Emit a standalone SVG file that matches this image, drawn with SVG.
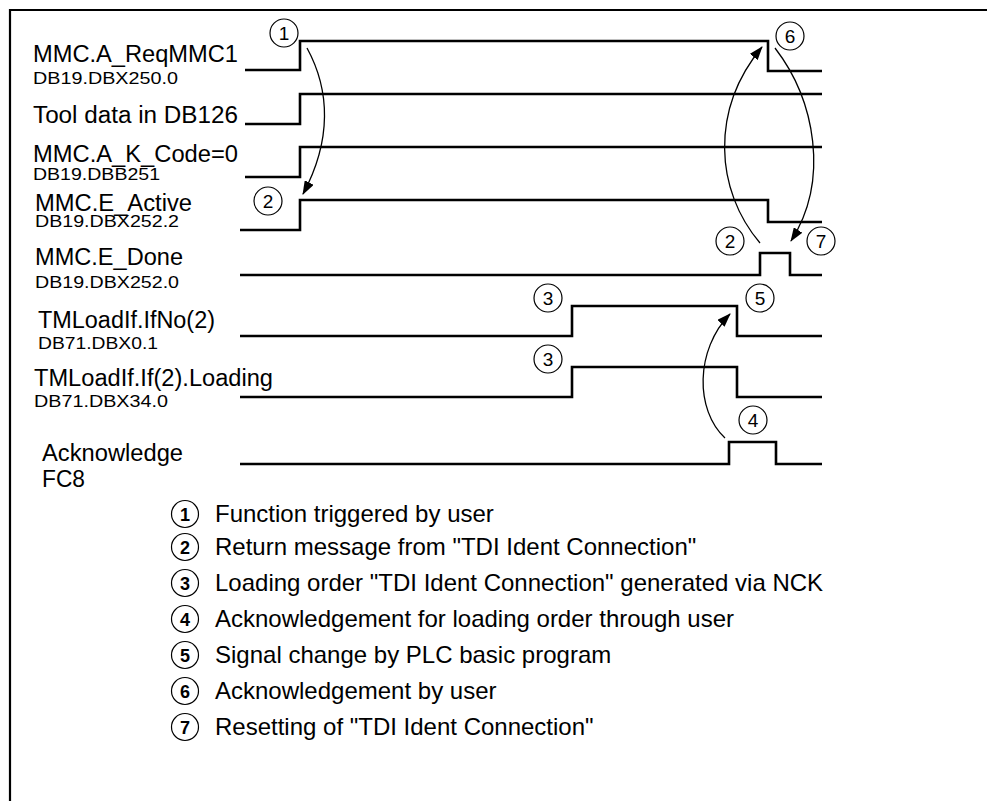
<svg xmlns="http://www.w3.org/2000/svg" width="987" height="801" viewBox="0 0 987 801">
<style>
.frame{fill:none;stroke:#000;stroke-width:2.2}
.sig{fill:none;stroke:#000;stroke-width:2.6;stroke-linejoin:miter}
.lbl{font-family:"Liberation Sans",Arial,sans-serif;font-size:23px;fill:#000}
.sub{font-family:"Liberation Sans",Arial,sans-serif;font-size:17px;fill:#000}
.cir{fill:#fff;stroke:#000;stroke-width:1.2}
.num{font-family:"Liberation Sans",Arial,sans-serif;font-size:19px;fill:#000;text-anchor:middle}
.bnum{font-family:"Liberation Sans",Arial,sans-serif;font-size:18px;font-weight:bold;fill:#000;text-anchor:middle}
.leg{font-family:"Liberation Sans",Arial,sans-serif;font-size:24px;fill:#000}
.arr{fill:none;stroke:#000;stroke-width:1.3}
</style>
<defs>
<marker id="ah" viewBox="0 0 14 10" refX="13" refY="5" markerWidth="14" markerHeight="10" markerUnits="userSpaceOnUse" orient="auto">
<path d="M0,0 L14,5 L0,10 Z" fill="#000"/>
</marker>
</defs>
<rect width="987" height="801" fill="#fff"/>
<path class="frame" d="M10,801 V10 H987"/>

<g id="sig-reqmmc1">
<text class="lbl" x="33" y="61.5" textLength="205" lengthAdjust="spacingAndGlyphs">MMC.A_ReqMMC1</text>
<text class="sub" x="33" y="84" textLength="145" lengthAdjust="spacingAndGlyphs">DB19.DBX250.0</text>
<path class="sig" d="M245,70 H300 V41 H768 V71 H822"/>
</g>
<g id="sig-tooldata">
<text class="lbl" x="33" y="122.5" textLength="205" lengthAdjust="spacingAndGlyphs">Tool data in DB126</text>
<path class="sig" d="M245,124 H300 V94 H822"/>
</g>
<g id="sig-kcode">
<text class="lbl" x="33" y="161.5" textLength="205" lengthAdjust="spacingAndGlyphs">MMC.A_K_Code=0</text>
<text class="sub" x="33" y="180" textLength="127" lengthAdjust="spacingAndGlyphs">DB19.DBB251</text>
<path class="sig" d="M245,177 H300 V147 H822"/>
</g>
<g id="sig-active">
<text class="lbl" x="35" y="210.5" textLength="157" lengthAdjust="spacingAndGlyphs">MMC.E_Active</text>
<text class="sub" x="35" y="227" textLength="144" lengthAdjust="spacingAndGlyphs">DB19.DBX252.2</text>
<path class="sig" d="M240,230 H300 V200 H768 V222 H822"/>
</g>
<g id="sig-done">
<text class="lbl" x="35" y="265" textLength="148" lengthAdjust="spacingAndGlyphs">MMC.E_Done</text>
<text class="sub" x="35" y="288" textLength="144" lengthAdjust="spacingAndGlyphs">DB19.DBX252.0</text>
<path class="sig" d="M240,275 H760 V253 H790 V275 H822"/>
</g>
<g id="sig-ifno">
<text class="lbl" x="38" y="328" textLength="177" lengthAdjust="spacingAndGlyphs">TMLoadIf.IfNo(2)</text>
<text class="sub" x="38" y="349" textLength="120" lengthAdjust="spacingAndGlyphs">DB71.DBX0.1</text>
<path class="sig" d="M240,336 H572 V306 H737 V336 H822"/>
</g>
<g id="sig-loading">
<text class="lbl" x="34" y="386" textLength="239" lengthAdjust="spacingAndGlyphs">TMLoadIf.If(2).Loading</text>
<text class="sub" x="34" y="406.5" textLength="134" lengthAdjust="spacingAndGlyphs">DB71.DBX34.0</text>
<path class="sig" d="M240,397 H572 V367 H737 V397 H822"/>
</g>
<g id="sig-ack">
<text class="lbl" x="42" y="460.5" textLength="141" lengthAdjust="spacingAndGlyphs">Acknowledge</text>
<text class="lbl" x="42" y="487" textLength="43" lengthAdjust="spacingAndGlyphs">FC8</text>
<path class="sig" d="M240,464 H729 V442 H776 V464 H822"/>
</g>

<g id="markers">
<g id="m1"><circle class="cir" cx="284" cy="33" r="14"/><text class="num" x="284" y="40">1</text></g>
<g id="m6"><circle class="cir" cx="790" cy="36" r="14"/><text class="num" x="790" y="43">6</text></g>
<g id="m2a"><circle class="cir" cx="268" cy="201" r="14"/><text class="num" x="268" y="208">2</text></g>
<g id="m2b"><circle class="cir" cx="730" cy="241" r="14"/><text class="num" x="730" y="248">2</text></g>
<g id="m7"><circle class="cir" cx="821" cy="241" r="14"/><text class="num" x="821" y="248">7</text></g>
<g id="m3a"><circle class="cir" cx="548" cy="298" r="14"/><text class="num" x="548" y="305">3</text></g>
<g id="m5"><circle class="cir" cx="760" cy="298" r="14"/><text class="num" x="760" y="305">5</text></g>
<g id="m3b"><circle class="cir" cx="548" cy="359" r="14"/><text class="num" x="548" y="366">3</text></g>
<g id="m4"><circle class="cir" cx="753" cy="420" r="14"/><text class="num" x="753" y="427">4</text></g>
</g>

<g id="connectors">
<path class="arr" d="M307,48 C330,90 332,140 303,194" marker-end="url(#ah)"/>
<path class="arr" d="M760,243 C715,190 710,110 762,47" marker-end="url(#ah)"/>
<path class="arr" d="M775,48 C815,100 830,180 791,241" marker-end="url(#ah)"/>
<path class="arr" d="M725,438 C695,410 695,350 730,314" marker-end="url(#ah)"/>
</g>

<g id="legend">
<g id="leg1"><circle class="cir" cx="185" cy="514" r="13.5"/><text class="bnum" x="185" y="520.5">1</text><text class="leg" x="215" y="522">Function triggered by user</text></g>
<g id="leg2"><circle class="cir" cx="185" cy="547" r="13.5"/><text class="bnum" x="185" y="553.5">2</text><text class="leg" x="215" y="555">Return message from "TDI Ident Connection"</text></g>
<g id="leg3"><circle class="cir" cx="185" cy="583" r="13.5"/><text class="bnum" x="185" y="589.5">3</text><text class="leg" x="215" y="591">Loading order "TDI Ident Connection" generated via NCK</text></g>
<g id="leg4"><circle class="cir" cx="185" cy="619" r="13.5"/><text class="bnum" x="185" y="625.5">4</text><text class="leg" x="215" y="627">Acknowledgement for loading order through user</text></g>
<g id="leg5"><circle class="cir" cx="185" cy="655" r="13.5"/><text class="bnum" x="185" y="661.5">5</text><text class="leg" x="215" y="663">Signal change by PLC basic program</text></g>
<g id="leg6"><circle class="cir" cx="185" cy="691" r="13.5"/><text class="bnum" x="185" y="697.5">6</text><text class="leg" x="215" y="699">Acknowledgement by user</text></g>
<g id="leg7"><circle class="cir" cx="185" cy="727" r="13.5"/><text class="bnum" x="185" y="733.5">7</text><text class="leg" x="215" y="735">Resetting of "TDI Ident Connection"</text></g>
</g>
</svg>
